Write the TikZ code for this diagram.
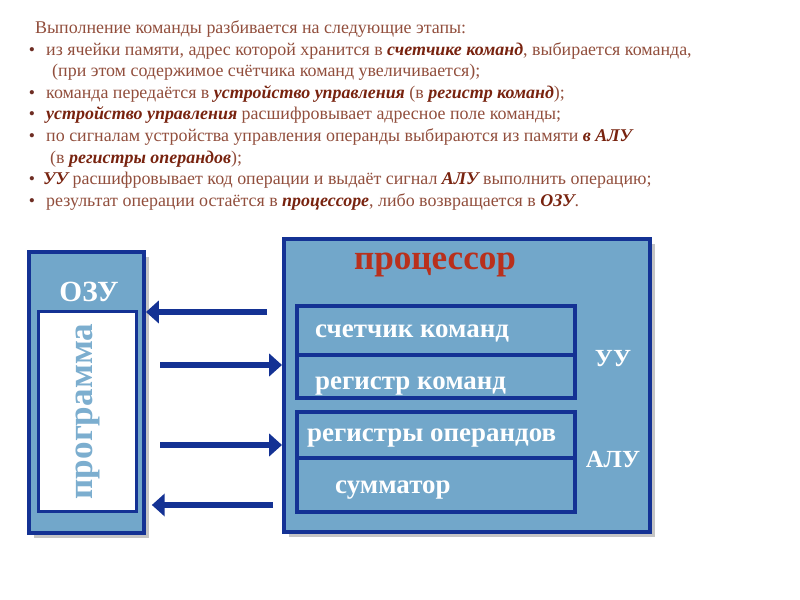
\documentclass[tikz,border=0pt]{standalone}
\usepackage{fontspec}
\setmainfont{Liberation Serif}
\usetikzlibrary{positioning,arrows.meta,calc,shadows}
\definecolor{txtc}{RGB}{145,78,60}
\definecolor{emc}{RGB}{120,35,15}
\definecolor{dotc}{RGB}{110,45,35}
\definecolor{titc}{RGB}{185,48,28}
\definecolor{boxc}{RGB}{114,167,202}
\definecolor{edgec}{RGB}{20,50,148}
\definecolor{progc}{RGB}{124,174,207}
\newcommand{\kw}[1]{\textbf{\textit{\color{emc}#1}}}
\tikzset{
  line/.style={font=\fontsize{15.3}{18.5}\selectfont, text=txtc, anchor=base west, inner sep=0pt},
  dot/.style={font=\fontsize{15}{16}\selectfont, text=dotc, anchor=base, inner sep=0pt},
  block/.style={draw=edgec, fill=boxc, line width=3.4pt, inner sep=0pt,
    drop shadow={shadow xshift=4pt, shadow yshift=-4pt, fill=black!45}},
  cell/.style={draw=edgec, fill=boxc, line width=3pt, minimum width=8.34cm, inner sep=0pt},
  celltxt/.style={font=\bfseries\fontsize{23}{26}\selectfont, text=white, anchor=base west, inner sep=0pt},
  tag/.style={font=\bfseries\fontsize{21}{24}\selectfont, text=white, anchor=base, inner sep=0pt},
  conn/.style={draw=edgec, line width=5pt, -{Triangle[length=11pt,width=19pt]}},
}

\begin{document}
\begin{tikzpicture}[x=0.03cm, y=-0.03cm]
\useasboundingbox (0,0) rectangle (800,600);

% ------------------------------------------------- text above
\node[line] (l1) at (35,33.5) {Выполнение команды разбивается на следующие этапы:};
\node[line] (l2) at (46,55.1) {из ячейки памяти, адрес которой хранится в \kw{счетчике команд}, выбирается команда,};
\node[line] (l3) at (52,76.7) {(при этом содержимое счётчика команд увеличивается);};
\node[line] (l4) at (46,98.3) {команда передаётся в \kw{устройство управления} (в \kw{регистр команд});};
\node[line] (l5) at (46,119.9) {\kw{устройство управления} расшифровывает адресное поле команды;};
\node[line] (l6) at (46,141.5) {по сигналам устройства управления операнды выбираются из памяти \kw{в АЛУ}};
\node[line] (l7) at (50,163.1) {(в \kw{регистры операндов});};
\node[line] (l8) at (43,184.7) {\kw{УУ} расшифровывает код операции и выдаёт сигнал \kw{АЛУ} выполнить операцию;};
\node[line] (l9) at (46,206.3) {результат операции остаётся в \kw{процессоре}, либо возвращается в \kw{ОЗУ}.};
\foreach \i/\y in {2/55.1,4/98.3,5/119.9,6/141.5,8/184.7,9/206.3}
  \node[dot] (b\i) at (32,\y) {•};

% ------------------------------------------------- memory
\node[block, minimum width=3.45cm, minimum height=8.43cm] (ozu) at (86.5,392.5) {};
\node[draw=edgec, fill=white, line width=3pt, minimum width=2.94cm, minimum height=6cm,
  inner sep=0pt] (prog) at (87.5,411.5) {};
\node[font=\bfseries\fontsize{30}{32}\selectfont, text=progc, rotate=90, inner sep=0pt]
  (progt) at (prog.center) {программа};
\node[font=\bfseries\fontsize{25}{27}\selectfont, text=white, anchor=base, inner sep=0pt]
  (ozut) at (89,302) {ОЗУ};

% ------------------------------------------------- processor
\node[block, minimum width=10.98cm, minimum height=8.79cm] (cpu) at (467,385.5) {};
\node[font=\bfseries\fontsize{30}{32}\selectfont, text=titc, anchor=base, inner sep=0pt]
  (cput) at (435,270) {процессор};
\node[cell, minimum height=1.47cm] (c1) at (436,330.5) {};
\node[cell, minimum height=1.29cm] (c2) at (436,376.5) {};
\node[cell, minimum height=1.38cm] (c3) at (436,435) {};
\node[cell, minimum height=1.62cm] (c4) at (436,485) {};
\node[celltxt] (t1) at (315,338) {счетчик команд};
\node[celltxt] (t2) at (315,390) {регистр команд};
\node[celltxt] (t3) at (307,442) {регистры операндов};
\node[celltxt] (t4) at (335,494) {сумматор};
\node[tag] (uu) at (613,367) {УУ};
\node[tag] (alu) at (613,468) {АЛУ};

% ------------------------------------------------- arrows
\coordinate (a1) at (267,312);
\coordinate (a2) at (160,365);
\coordinate (a3) at (160,445);
\coordinate (a4) at (273,505);
\draw[conn] (a1) -- (ozu.east |- a1);
\draw[conn] (a2) -- (cpu.west |- a2);
\draw[conn] (a3) -- (cpu.west |- a3);
\draw[conn, shorten >=5pt] (a4) -- (ozu.east |- a4);

\end{tikzpicture}
\end{document}
